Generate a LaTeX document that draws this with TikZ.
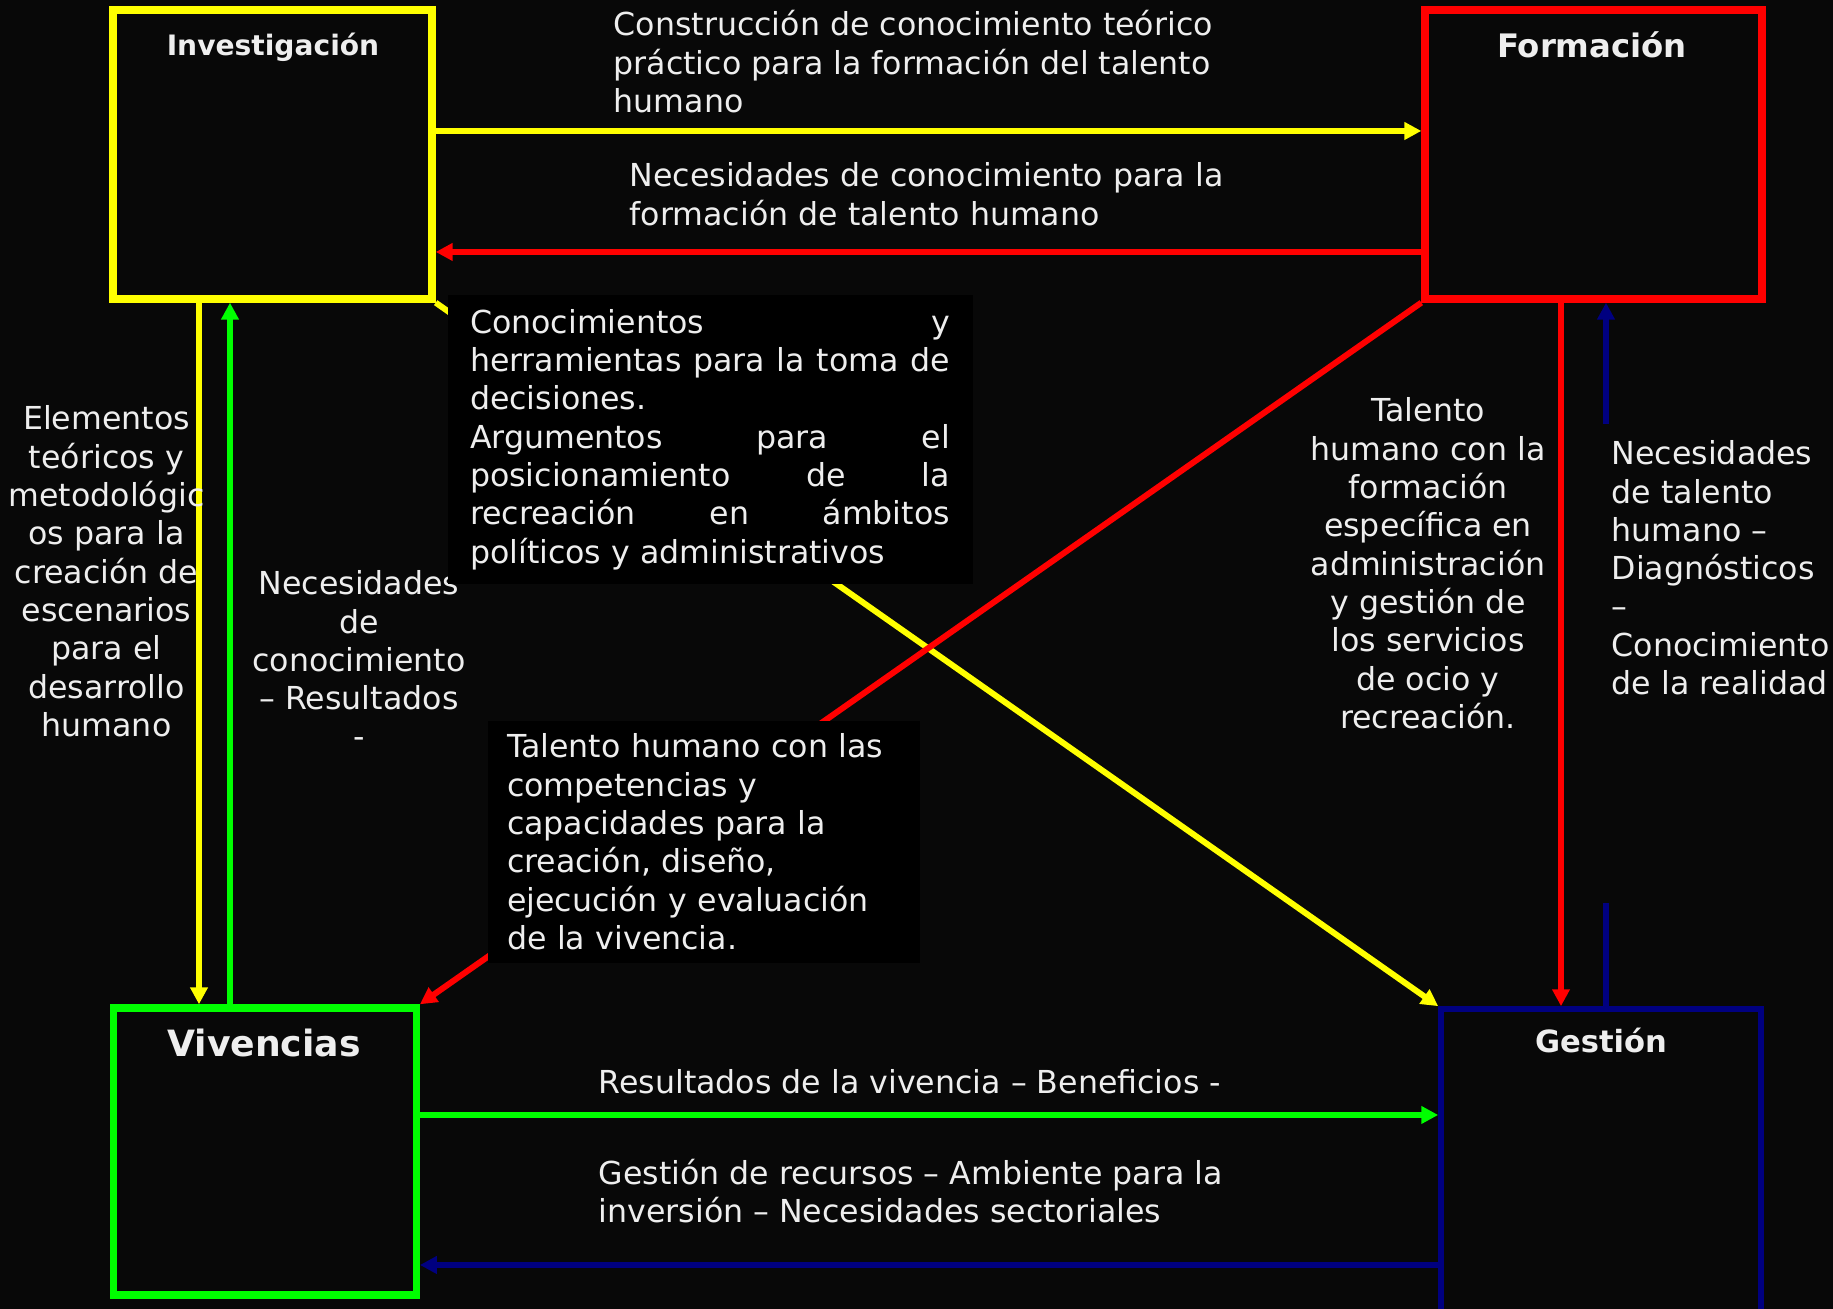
\documentclass[tikz,border=0pt]{standalone}
\usepackage{fontspec}
\setmainfont{DejaVu Sans}
\usetikzlibrary{arrows.meta}
\setlength{\parindent}{0pt}

\definecolor{fondo}{RGB}{8,8,8}
\definecolor{amarillo}{RGB}{255,255,0}
\definecolor{rojo}{RGB}{255,0,0}
\definecolor{verde}{RGB}{0,255,0}
\definecolor{azul}{RGB}{0,0,128}
\definecolor{texto}{RGB}{238,238,238}

\begin{document}
\begin{tikzpicture}[
    caja/.style={line width=2.1pt, inner sep=0pt},
    titulo/.style={text=texto, inner sep=0pt, anchor=base},
    etiqueta/.style={text=texto, inner sep=0pt, font=\fontsize{9}{10.9}\selectfont},
    recuadro/.style={etiqueta, fill=black},
    flecha/.style={line width=1.7pt, -{Triangle[length=4.8pt,width=4.8pt]}}
  ]
  \useasboundingbox (0,0) rectangle (18.33,13.09);
  \fill[fondo] (0,0) rectangle (18.33,13.09);
  \clip (0,0) rectangle (18.33,13.09);

  \node[caja, draw=amarillo, minimum width=3.19cm, minimum height=2.89cm] (inv) at (2.725,11.545) {};
  \node[caja, draw=rojo, minimum width=3.37cm, minimum height=2.89cm] (form) at (15.935,11.545) {};
  \node[caja, draw=verde, minimum width=3.025cm, minimum height=2.87cm] (viv) at (2.65,1.575) {};
  \node[caja, draw=azul, line width=1.6pt, minimum width=3.2cm, minimum height=3.2cm] (gest) at (16.01,1.40) {};

  \node[titulo, font=\fontsize{8}{10}\selectfont\bfseries] (invtit) at (2.73,12.53) {Investigación};
  \node[titulo, font=\fontsize{9.2}{11}\selectfont\bfseries] (formtit) at (15.92,12.51) {Formación};
  \node[titulo, font=\fontsize{10.3}{12}\selectfont\bfseries] (vivtit) at (2.64,2.52) {Vivencias};
  \node[titulo, font=\fontsize{8.7}{10.5}\selectfont\bfseries] (gesttit) at (16.01,2.56) {Gestión};

  \coordinate (filaA) at (0,11.78);
  \coordinate (filaB) at (0,10.57);
  \coordinate (filaC) at (0,1.94);
  \coordinate (filaD) at (0,0.44);
  \coordinate (colA) at (1.99,0);
  \coordinate (colB) at (2.30,0);
  \coordinate (colC) at (15.61,0);
  \coordinate (colD) at (16.06,0);

  \draw[flecha, amarillo] (inv.east |- filaA) -- (form.west |- filaA);
  \draw[flecha, rojo] (form.west |- filaB) -- (inv.east |- filaB);
  \draw[flecha, amarillo] (inv.south -| colA) -- (viv.north -| colA);
  \draw[flecha, verde] (viv.north -| colB) -- (inv.south -| colB);
  \draw[flecha, rojo] (form.south -| colC) -- (gest.north -| colC);
  \draw[flecha, azul] (gest.north -| colD) -- (form.south -| colD);
  \draw[flecha, amarillo] (inv.south east) -- (gest.north west);
  \draw[flecha, rojo] (form.south west) -- (viv.north east);
  \draw[flecha, verde] (viv.east |- filaC) -- (gest.west |- filaC);
  \draw[flecha, azul] (gest.west |- filaD) -- (viv.east |- filaD);

  \node[etiqueta, align=left, anchor=base west] (construccion) at (6.13,11.964)
    {Construcción de conocimiento teórico\\ práctico para la formación del talento\\ humano};
  \node[etiqueta, align=left, anchor=base west] (necform) at (6.29,10.837)
    {Necesidades de conocimiento para la\\ formación de talento humano};
  \node[etiqueta, align=center, anchor=base] (elementos) at (1.065,5.726)
    {Elementos\\ teóricos y\\ metodológic\\ os para la\\ creación de\\ escenarios\\ para el\\ desarrollo\\ humano};
  \node[etiqueta, align=center, anchor=base] (necres) at (3.59,5.61)
    {Necesidades\\ de\\ conocimiento\\ – Resultados\\ -};
  \node[recuadro, text width=4.80cm, align=justify, minimum width=5.25cm, minimum height=2.89cm] (conoc) at (7.10,8.695)
    {Conocimientos y\linebreak herramientas para la toma de\linebreak decisiones.\\ Argumentos para el\linebreak posicionamiento de la\linebreak recreación en ámbitos\linebreak políticos y administrativos};
  \node[recuadro, text width=3.94cm, align=left, minimum width=4.32cm, minimum height=2.42cm] (talcomp) at (7.04,4.67)
    {Talento humano con las\\ competencias y\\ capacidades para la\\ creación, diseño,\\ ejecución y evaluación\\ de la vivencia.};
  \node[etiqueta, align=center, anchor=base] (talform) at (14.28,5.806)
    {Talento\\ humano con la\\ formación\\ específica en\\ administración\\ y gestión de\\ los servicios\\ de ocio y\\ recreación.};
  \node[etiqueta, fill=fondo, anchor=north west, inner xsep=0.11cm, inner ysep=0.17cm] (nectal) at (16.00,8.86)
    {\parbox[t][4.45cm][t]{2.3cm}{\raggedright Necesidades\\ de talento\\ humano –\\ Diagnósticos\\ –\\ Conocimiento\\ de la realidad}};
  \node[etiqueta, anchor=base west] (resviv) at (5.98,2.15) {Resultados de la vivencia – Beneficios -};
  \node[etiqueta, align=left, anchor=base west] (gesrec) at (5.98,0.86)
    {Gestión de recursos – Ambiente para la\\ inversión – Necesidades sectoriales};
\end{tikzpicture}
\end{document}
